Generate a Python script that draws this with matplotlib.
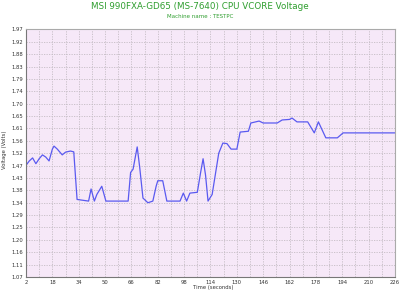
import matplotlib
matplotlib.use("Agg")
import matplotlib.pyplot as plt
import numpy as np

# readings (seconds, volts)
time_s = [2, 4, 6, 8, 10, 12, 14, 16, 18, 19, 21, 24, 26, 29, 31, 33,
          40, 41.5, 43.5, 45, 48, 50.5, 64, 65.5, 67, 69.5, 71, 73, 76, 79,
          81, 82, 85, 87.5, 95.5, 97.5, 99.5, 101.5, 106, 108, 109.5, 111, 112.5,
          115, 119, 121.5, 124, 126.5, 130, 132, 137, 138.5, 143.5, 146,
          154.5, 157.5, 162, 163.5, 166.5, 173, 177, 179.5, 184, 191, 194.5, 226]
volts = [1.476, 1.492, 1.503, 1.482, 1.500, 1.514, 1.506, 1.492, 1.535, 1.546, 1.535, 1.514,
         1.524, 1.528, 1.525, 1.352,
         1.346, 1.390, 1.346, 1.370, 1.400, 1.346, 1.346, 1.450, 1.462, 1.543, 1.470, 1.357, 1.340, 1.346,
         1.400, 1.420, 1.420, 1.346, 1.346, 1.375, 1.346, 1.375, 1.378, 1.450, 1.500, 1.440, 1.346,
         1.370, 1.520, 1.557, 1.555, 1.535, 1.535, 1.597, 1.600, 1.630, 1.637, 1.630,
         1.630, 1.641, 1.643, 1.648, 1.634, 1.634, 1.594, 1.634, 1.576, 1.576, 1.594, 1.594]

y_ticks = [1.07, 1.11, 1.16, 1.20, 1.25, 1.29, 1.34, 1.38, 1.43, 1.47, 1.52,
           1.56, 1.61, 1.65, 1.70, 1.74, 1.79, 1.83, 1.88, 1.92, 1.97]
x_ticks = [2, 18, 34, 50, 66, 82, 98, 114, 130, 146, 162, 178, 194, 210, 226]

green = "#2f9e2f"

fig = plt.figure(figsize=(4, 2.92), dpi=100)
ax = fig.add_axes([0.065, 0.0514, 0.9225, 0.8476])
ax.set_facecolor("#f6e8f8")

ax.plot(time_s, volts, color="#5a5af0", linewidth=0.9)

ax.set_xlim(2, 226)
ax.set_ylim(1.07, 1.97)
y_pos = np.linspace(1.07, 1.97, 21)
ax.set_yticks(y_pos)
ax.set_yticklabels([f"{v:.2f}" for v in y_ticks])
ax.set_xticks(x_ticks)
ax.set_xticks(np.arange(10, 226, 16), minor=True)
ax.tick_params(axis="both", which="both", length=0, labelsize=3.8, colors="#333333", pad=2)
ax.grid(True, which="both", color="#c4bcc4", linestyle=(0, (1.5, 1.5)), linewidth=0.6)
ax.set_axisbelow(True)

for side in ["left", "bottom"]:
    ax.spines[side].set_color("#777777")
for side in ["top", "right"]:
    ax.spines[side].set_color("#aaaaaa")

fig.text(0.5, 0.978, "MSI 990FXA-GD65 (MS-7640) CPU VCORE Voltage", color=green,
         fontsize=6.3, ha="center", va="center")
fig.text(0.5, 0.945, "Machine name : TESTPC", color=green,
         fontsize=4.0, ha="center", va="center")
fig.text(0.533, 0.014, "Time (seconds)", color="#333333", fontsize=3.8, ha="center", va="center")
fig.text(0.012, 0.486, "Voltage (Volts)", color="#333333", fontsize=3.8, ha="center",
         va="center", rotation=90)

fig.savefig("out.png", dpi=100, facecolor="white")
